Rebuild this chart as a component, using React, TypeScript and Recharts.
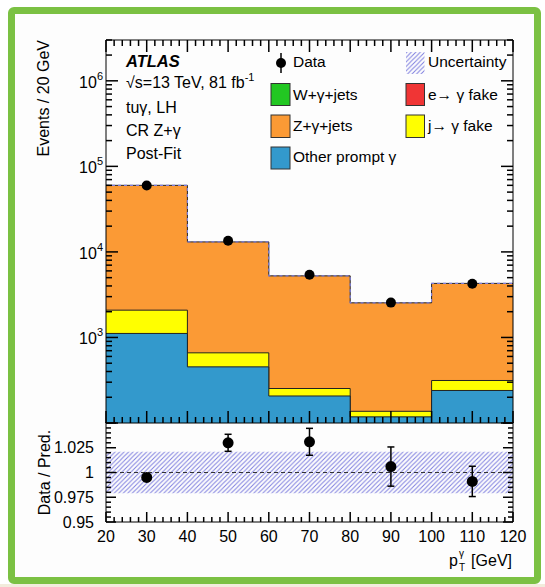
import React from 'react';
import { ComposedChart, Area, Line, Scatter, XAxis, YAxis, ErrorBar, ReferenceLine } from 'recharts';

const FONT = '"Liberation Sans", Arial, Helvetica, sans-serif';

// ---------------- data ----------------
const binEdges = [20, 40, 60, 80, 100, 120];
const binCenters = [30, 50, 70, 90, 110];
const otherPromptGamma = [1114, 453, 207, 118, 240];
const jetFakeGamma = [971, 208, 46, 19, 74];
const eFakeGamma = [0, 0, 0, 0, 0];
const wGammaJets = [0, 0, 0, 0, 0];
const zGammaJets = [57915, 12429, 4997, 2403, 3971];
const dataEvents = [59650, 13480, 5410, 2555, 4245];
const ratioValues = [0.995, 1.03, 1.031, 1.006, 0.991];
const ratioErrors = [0.003, 0.0086, 0.0136, 0.0198, 0.0153];
const bandLow = [0.979, 0.979, 0.979, 0.979, 0.979];
const bandHigh = [1.021, 1.021, 1.021, 1.021, 1.021];

// tick labels
const xTickLabels = ['20', '30', '40', '50', '60', '70', '80', '90', '100', '110', '120'];
const xTickValues = [20, 30, 40, 50, 60, 70, 80, 90, 100, 110, 120];
const logLabelValues = [1000, 10000, 100000, 1000000];
const logLabelExponents = ['3', '4', '5', '6'];
const ratioLabelValues = [0.95, 0.975, 1, 1.025];
const ratioLabels = ['0.95', '0.975', '1', '1.025'];

// axis ranges
const X_MIN = 20;
const X_MAX = 120;
const Y_MIN = 100;
const Y_MAX = 3e6;
const R_MIN = 0.95;
const R_MAX = 1.05;

// ---------------- derived tables ----------------
const stackRows = binEdges.map((x, i) => {
  const b = Math.min(i, binCenters.length - 1);
  const blue = otherPromptGamma[b];
  const yellow = blue + jetFakeGamma[b];
  const red = yellow + eFakeGamma[b];
  const green = red + wGammaJets[b];
  const total = green + zGammaJets[b];
  return { x, blue, yellow, red, green, total };
});
const dataPoints = binCenters.map((x, i) => ({ x, y: dataEvents[i] }));
const bandRows = binEdges.map((x, i) => {
  const b = Math.min(i, binCenters.length - 1);
  return { x, band: [bandLow[b], bandHigh[b]] };
});
const ratioPoints = binCenters.map((x, i) => ({ x, y: ratioValues[i], err: ratioErrors[i] }));

// axis tick positions (decoration)
const xTicks: number[] = [];
for (let v = 20; v <= 120; v += 2) xTicks.push(v);
const logTicks: number[] = [];
[100, 1000, 10000, 100000, 1000000].forEach((d) => {
  for (let m = 1; m <= 9; m++) if (m * d <= Y_MAX) logTicks.push(m * d);
});
const ratioTicks: number[] = [];
for (let k = 0; k <= 20; k++) ratioTicks.push(Math.round((0.95 + k * 0.005) * 1000) / 1000);

const near = (a: number, b: number) => Math.abs(a - b) < 1e-6 * Math.max(1, Math.abs(b));
const isMajorX = (v: number) => xTickValues.some((t) => near(t, v));
const isMajorLog = (v: number) => {
  const e = Math.log10(v);
  return Math.abs(e - Math.round(e)) < 1e-6;
};
const isMajorRatio = (v: number) => Math.round((v - 0.95) / 0.005) % 5 === 0;

const W = 545;
const H = 587;
const MAIN_M = { top: 40, right: 32, bottom: 164, left: 106 };
const RATIO_M = { top: 423, right: 32, bottom: 65, left: 106 };
const shrink = (m: any) => ({ top: m.top - 1, right: m.right - 1, bottom: m.bottom - 1, left: m.left - 1 });

const mainPlotW = W - MAIN_M.left - MAIN_M.right;
const mainPlotH = H - MAIN_M.top - MAIN_M.bottom;
const ratioPlotH = H - RATIO_M.top - RATIO_M.bottom;
const pxPerDecade = mainPlotH / Math.log10(Y_MAX / Y_MIN);
const xPerPx = (X_MAX - X_MIN) / mainPlotW;
const rPerPx = (R_MAX - R_MIN) / ratioPlotH;

type Seg = { x: number; y: number }[];
// inward tick marks expressed in data coordinates, drawn by ReferenceLine
const mainTickSegs: Seg[] = [
  ...xTicks.flatMap((v) => {
    const f = Math.pow(10, (isMajorX(v) ? 12 : 6) / pxPerDecade);
    return [
      [{ x: v, y: Y_MIN }, { x: v, y: Y_MIN * f }],
      [{ x: v, y: Y_MAX }, { x: v, y: Y_MAX / f }],
    ];
  }),
  ...logTicks.flatMap((v) => {
    const dx = (isMajorLog(v) ? 12 : 6) * xPerPx;
    return [
      [{ x: X_MIN, y: v }, { x: X_MIN + dx, y: v }],
      [{ x: X_MAX, y: v }, { x: X_MAX - dx, y: v }],
    ];
  }),
];
const ratioTickSegs: Seg[] = [
  ...xTicks.map((v) => [{ x: v, y: R_MIN }, { x: v, y: R_MIN + (isMajorX(v) ? 10 : 5) * rPerPx }]),
  ...ratioTicks.flatMap((v) => {
    const dx = (isMajorRatio(v) ? 10 : 5) * xPerPx;
    return [
      [{ x: X_MIN, y: v }, { x: X_MIN + dx, y: v }],
      [{ x: X_MAX, y: v }, { x: X_MAX - dx, y: v }],
    ];
  }),
];

// ---------------- tick label renderers ----------------
const xLabel = (p: any) => {
  const v = Number(p.payload.value);
  const idx = xTickValues.findIndex((t) => near(t, v));
  if (idx < 0) return <g />;
  return (
    <text x={p.x} y={Number(p.y) + 20} textAnchor="middle" fontFamily={FONT} fontSize={16} fill="#000">
      {xTickLabels[idx]}
    </text>
  );
};
const logLabel = (p: any) => {
  const v = Number(p.payload.value);
  const idx = logLabelValues.findIndex((t) => near(t, v));
  if (idx < 0) return <g />;
  return (
    <text x={Number(p.x) - 3} y={Number(p.y) + 7} textAnchor="end" fontFamily={FONT} fontSize={16} fill="#000">
      10
      <tspan dy={-8} fontSize={11}>
        {logLabelExponents[idx]}
      </tspan>
    </text>
  );
};
const ratioLabel = (p: any) => {
  const v = Number(p.payload.value);
  const idx = ratioLabelValues.findIndex((t) => near(t, v));
  if (idx < 0) return <g />;
  return (
    <text x={Number(p.x) - 12} y={Number(p.y) + 6} textAnchor="end" fontFamily={FONT} fontSize={16} fill="#000">
      {ratioLabels[idx]}
    </text>
  );
};

const dot = (r: number) => (p: any) => <circle cx={p.cx} cy={p.cy} r={r} fill="#000" />;

const ORANGE = '#fb9a35';
const BLUE = '#3399cc';
const YELLOW = '#ffff00';
const GREEN = '#22c722';
const RED = '#f03535';
const HATCH = '#7e7edf';
const TICK_W = 1.5;

const abs: React.CSSProperties = { position: 'absolute', left: 0, top: 0 };

export default function App() {
  const axisLine = { stroke: '#000', strokeWidth: 1 };
  const common = { type: 'number' as const, allowDataOverflow: true, interval: 0 as const, tickSize: 0, tickMargin: 0, tickLine: false, axisLine };
  return (
    <div style={{ position: 'absolute', left: 0, top: 0, width: W, height: H, background: '#fff', overflow: 'hidden', fontFamily: FONT }}>
      <svg width={0} height={0} style={{ position: 'absolute' }}>
        <defs>
          <pattern id="hatch" width={4.5} height={4.5} patternUnits="userSpaceOnUse">
            <path d="M-1,1 l2,-2 M0,4.5 l4.5,-4.5 M3.5,5.5 l2,-2" stroke={HATCH} strokeWidth={1} />
          </pattern>
        </defs>
      </svg>
      {/* frame */}
      <div style={{ position: 'absolute', left: 8, top: 7, width: 533, height: 577, border: '7px solid #7bc143', borderRadius: 6, boxSizing: 'border-box', background: '#fdfdfd' }} />
      <div style={{ position: 'absolute', left: 0, top: 584, width: W, height: 3, background: '#f2ecdc' }} />

      {/* main panel series */}
      <div style={abs}>
        <ComposedChart width={W} height={H} data={stackRows} margin={MAIN_M}>
          <XAxis dataKey="x" type="number" domain={[X_MIN, X_MAX]} allowDataOverflow hide />
          <YAxis type="number" scale="log" domain={[Y_MIN, Y_MAX]} allowDataOverflow hide />
          <Area dataKey="total" type="stepAfter" baseValue="dataMin" fill={ORANGE} fillOpacity={1} stroke="#222" strokeWidth={1} isAnimationActive={false} />
          <Area dataKey="yellow" type="stepAfter" baseValue="dataMin" fill={YELLOW} fillOpacity={1} stroke="#222" strokeWidth={1} isAnimationActive={false} />
          <Area dataKey="blue" type="stepAfter" baseValue="dataMin" fill={BLUE} fillOpacity={1} stroke="#222" strokeWidth={1} isAnimationActive={false} />
          <Line dataKey="total" type="stepAfter" stroke={HATCH} strokeWidth={1.2} strokeDasharray="3 3" dot={false} isAnimationActive={false} />
          <Scatter data={dataPoints} dataKey="y" shape={dot(5)} isAnimationActive={false} />
          {mainTickSegs.map((s, i) => (
            <ReferenceLine key={`m${i}`} segment={s} stroke="#000" strokeWidth={TICK_W} ifOverflow="visible" />
          ))}
        </ComposedChart>
      </div>

      {/* ratio panel series */}
      <div style={abs}>
        <ComposedChart width={W} height={H} data={bandRows} margin={RATIO_M}>
          <XAxis dataKey="x" type="number" domain={[X_MIN, X_MAX]} allowDataOverflow hide />
          <YAxis type="number" domain={[R_MIN, R_MAX]} allowDataOverflow hide />
          <Area dataKey="band" type="stepAfter" fill="url(#hatch)" fillOpacity={1} stroke="none" isAnimationActive={false} />
          <ReferenceLine y={1} stroke="#333" strokeWidth={1.2} strokeDasharray="4 3" />
          <Scatter data={ratioPoints} dataKey="y" shape={dot(5.5)} isAnimationActive={false}>
            <ErrorBar dataKey="err" direction="y" width={3.5} stroke="#000" strokeWidth={1.5} />
          </Scatter>
          {ratioTickSegs.map((s, i) => (
            <ReferenceLine key={`r${i}`} segment={s} stroke="#000" strokeWidth={TICK_W} ifOverflow="visible" />
          ))}
        </ComposedChart>
      </div>

      {/* main panel frame + labels */}
      <div style={abs}>
        <ComposedChart width={W} height={H} data={stackRows} margin={shrink(MAIN_M)}>
          <XAxis xAxisId="db" orientation="bottom" dataKey="x" domain={[X_MIN, X_MAX]} ticks={xTickValues} height={1} tick={false} {...common} />
          <XAxis xAxisId="dt" orientation="top" dataKey="x" domain={[X_MIN, X_MAX]} ticks={xTickValues} height={1} tick={false} {...common} />
          <YAxis yAxisId="dl" orientation="left" scale="log" domain={[Y_MIN, Y_MAX]} ticks={logLabelValues} width={1} tick={logLabel} {...common} />
          <YAxis yAxisId="dr" orientation="right" scale="log" domain={[Y_MIN, Y_MAX]} ticks={logLabelValues} width={1} tick={false} {...common} />
        </ComposedChart>
      </div>

      {/* ratio panel frame + labels */}
      <div style={abs}>
        <ComposedChart width={W} height={H} data={bandRows} margin={shrink(RATIO_M)}>
          <XAxis xAxisId="db" orientation="bottom" dataKey="x" domain={[X_MIN, X_MAX]} ticks={xTickValues} height={1} tick={xLabel} {...common} />
          <YAxis yAxisId="dl" orientation="left" domain={[R_MIN, R_MAX]} ticks={ratioLabelValues} width={1} tick={ratioLabel} {...common} />
          <YAxis yAxisId="dr" orientation="right" domain={[R_MIN, R_MAX]} ticks={ratioLabelValues} width={1} tick={false} {...common} />
        </ComposedChart>
      </div>

      {/* texts & legend */}
      <svg width={W} height={H} style={{ position: 'absolute', left: 0, top: 0, pointerEvents: 'none' }} fontFamily={FONT}>
        <text transform="translate(49,40) rotate(-90)" textAnchor="end" fontSize={16} fill="#000">Events / 20 GeV</text>
        <text transform="translate(50,472.5) rotate(-90)" textAnchor="middle" fontSize={16} fill="#000">Data / Pred.</text>

        <text x={512} y={566} textAnchor="end" fontSize={16} fill="#000">[GeV]</text>
        <text x={458} y={566} textAnchor="end" fontSize={16} fill="#000">p</text>
        <text x={459} y={557} fontSize={10} fill="#000">γ</text>
        <text x={459} y={571} fontSize={10} fill="#000">T</text>

        <text x={126} y={67} fontSize={16.5} fontWeight="bold" fontStyle="italic" fill="#000">ATLAS</text>
        <text x={126} y={88} fontSize={16} fill="#000">
          √s=13 TeV, 81 fb<tspan dy={-7} fontSize={11}>-1</tspan>
        </text>
        <text x={126} y={113} fontSize={16} fill="#000">tuγ, LH</text>
        <text x={126} y={136} fontSize={16} fill="#000">CR Z+γ</text>
        <text x={126} y={159} fontSize={16} fill="#000">Post-Fit</text>

        {/* legend */}
        <line x1={281} y1={53} x2={281} y2={73} stroke="#000" strokeWidth={1.5} />
        <circle cx={281} cy={63} r={5} fill="#000" />
        <text x={293} y={67} fontSize={15.5} fill="#000">Data</text>

        <rect x={406} y={52} width={18.5} height={22} fill="url(#hatch)" />
        <text x={428} y={67} fontSize={15.5} fill="#000">Uncertainty</text>

        <rect x={271} y={83.5} width={19} height={22} fill={GREEN} stroke="#333" strokeWidth={1} />
        <text x={293} y={100} fontSize={15.5} fill="#000">W+γ+jets</text>
        <rect x={271} y={115} width={19} height={22.5} fill={ORANGE} stroke="#333" strokeWidth={1} />
        <text x={293} y={131} fontSize={15.5} fill="#000">Z+γ+jets</text>
        <rect x={271} y={147} width={19} height={22} fill={BLUE} stroke="#333" strokeWidth={1} />
        <text x={293} y={162} fontSize={15.5} fill="#000">Other prompt γ</text>

        <rect x={406} y={83.5} width={18.5} height={22} fill={RED} stroke="#333" strokeWidth={1} />
        <text x={428} y={100} fontSize={15.5} fill="#000">e→ γ fake</text>
        <rect x={406} y={115} width={18.5} height={22.5} fill={YELLOW} stroke="#333" strokeWidth={1} />
        <text x={428} y={131} fontSize={15.5} fill="#000">j→ γ fake</text>
      </svg>
    </div>
  );
}
